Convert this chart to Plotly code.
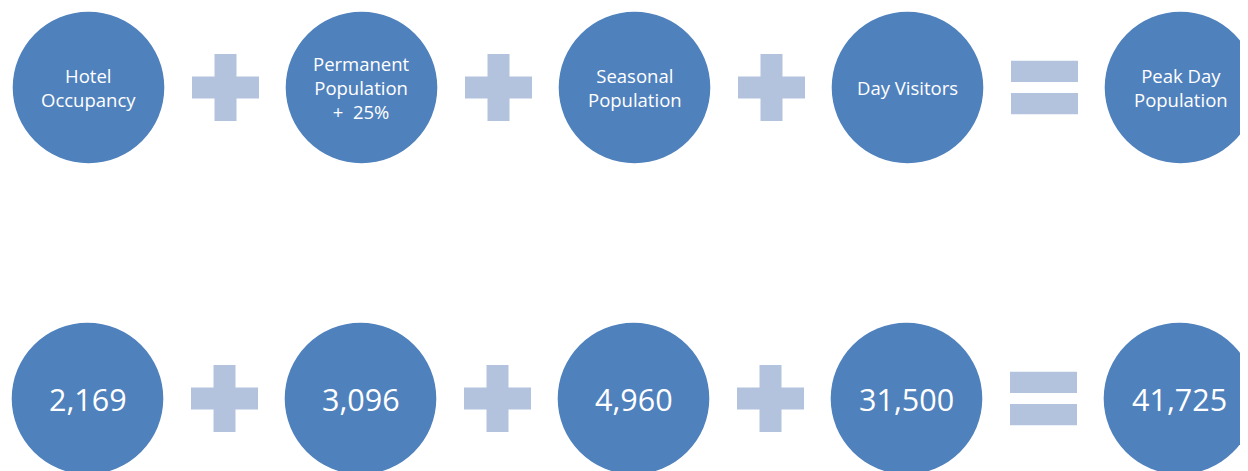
import plotly.graph_objects as go

# ---- data ----
labels = ["Hotel<br>Occupancy", "Permanent<br>Population<br>+  25%", "Seasonal<br>Population",
          "Day Visitors", "Peak Day<br>Population"]
values = [2169, 3096, 4960, 31500, 41725]
operators = ["+", "+", "+", "="]

# ---- styling / layout constants ----
W, H = 1248, 471
PAGE_OFF = 8  # default body margin of the html page
CIRCLE_COLOR = "#4F81BD"
OP_COLOR = "#B3C3DE"
x_first, x_step = 88.5, 273.0
row_y = [87.5, 398.5]
row_dx = [0.0, -1.0]
R = 75.8
OP_LEN, OP_THICK = 67, 22
EQ_H, EQ_OFF = 21.3, 16.2
FONT = "Open Sans, Noto Sans, DejaVu Sans, sans-serif"

fig = go.Figure()
shapes, annotations = [], []

for r, cy in enumerate(row_y):
    for i in range(len(labels)):
        cx = x_first + i * x_step + row_dx[r]
        shapes.append(dict(type="circle", xref="x", yref="y",
                           x0=cx - R, x1=cx + R, y0=cy - R, y1=cy + R,
                           fillcolor=CIRCLE_COLOR, line=dict(width=0), layer="below"))
        text = labels[i] if r == 0 else f"{values[i]:,}"
        size = 18.5 if r == 0 else 30.5
        annotations.append(dict(x=cx, y=cy, xref="x", yref="y", text=text, showarrow=False,
                                font=dict(family=FONT, size=size, color="white"),
                                align="center", xanchor="center", yanchor="middle"))
    for i, op in enumerate(operators):
        ox = x_first + (i + 0.5) * x_step + row_dx[r] + 0.5
        if op == "+":
            shapes.append(dict(type="rect", xref="x", yref="y",
                               x0=ox - OP_LEN / 2, x1=ox + OP_LEN / 2,
                               y0=cy - OP_THICK / 2, y1=cy + OP_THICK / 2,
                               fillcolor=OP_COLOR, line=dict(width=0)))
            shapes.append(dict(type="rect", xref="x", yref="y",
                               x0=ox - OP_THICK / 2, x1=ox + OP_THICK / 2,
                               y0=cy - OP_LEN / 2, y1=cy + OP_LEN / 2,
                               fillcolor=OP_COLOR, line=dict(width=0)))
        else:
            for s in (-1, 1):
                yc = cy + s * EQ_OFF
                shapes.append(dict(type="rect", xref="x", yref="y",
                                   x0=ox - OP_LEN / 2, x1=ox + OP_LEN / 2,
                                   y0=yc - EQ_H / 2, y1=yc + EQ_H / 2,
                                   fillcolor=OP_COLOR, line=dict(width=0)))

fig.update_layout(
    width=W - PAGE_OFF, height=H - PAGE_OFF,
    margin=dict(l=0, r=0, t=0, b=0),
    paper_bgcolor="white", plot_bgcolor="white",
    showlegend=False,
    shapes=shapes, annotations=annotations,
    xaxis=dict(range=[PAGE_OFF, W], visible=False, fixedrange=True),
    yaxis=dict(range=[H, PAGE_OFF], visible=False, fixedrange=True),
)

fig.write_html("out.html", config={"displayModeBar": False})
